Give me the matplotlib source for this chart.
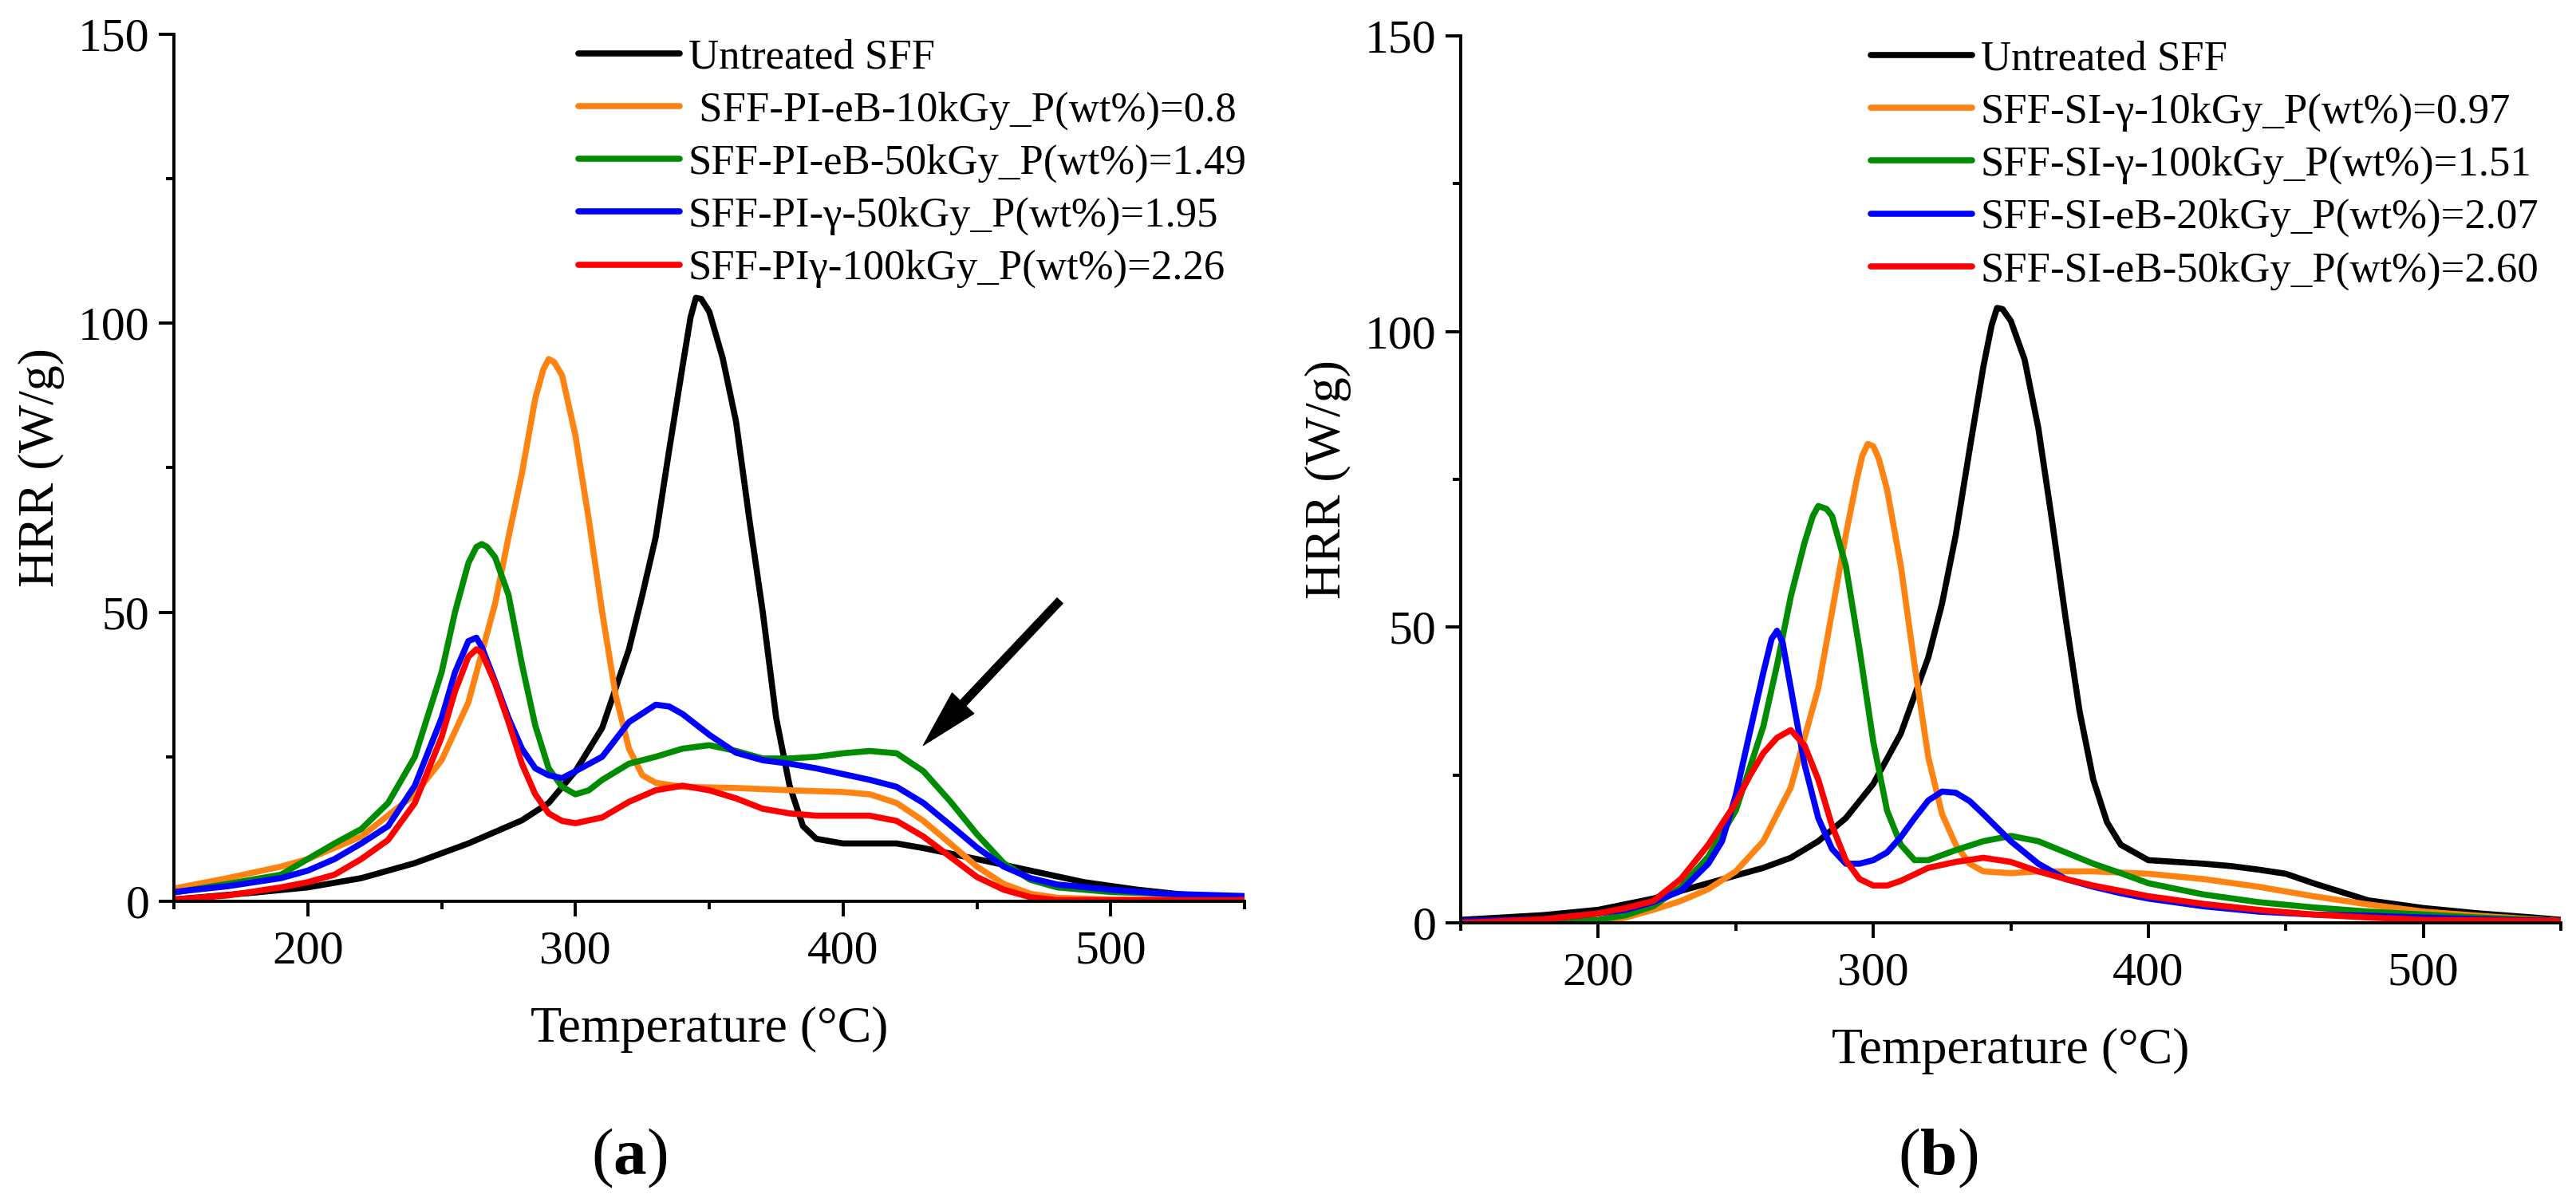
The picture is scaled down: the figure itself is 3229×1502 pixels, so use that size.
import numpy as np
import matplotlib
matplotlib.use('Agg')
import matplotlib.pyplot as plt
from matplotlib.ticker import MultipleLocator

plt.rcParams['font.family'] = ['Liberation Serif', 'DejaVu Serif']
plt.rcParams['mathtext.fontset'] = 'custom'
plt.rcParams['mathtext.rm'] = 'Liberation Serif'
plt.rcParams['mathtext.bf'] = 'Liberation Serif:bold'

# ---- panel (a) data: temperature (C) / HRR (W/g) ----
a_black_t = [150, 180, 200, 220, 240, 260, 280, 290, 300, 310, 320, 325, 330, 335, 340, 343, 345,
             347, 350, 355, 360, 365, 370, 375, 380, 385, 390, 400, 420, 430, 450, 470, 490, 510,
             530, 550]
a_black_y = [0.3, 1.5, 2.4, 4.0, 6.6, 10.0, 14.0, 17.0, 22.5, 30.0, 43.6, 53.0, 63.0, 78.0, 92.5,
             101.0, 104.4, 104.2, 102.0, 94.0, 83.0, 66.0, 50.0, 31.7, 20.0, 13.0, 10.8, 10.0,
             10.0, 9.2, 7.3, 5.3, 3.3, 2.0, 1.0, 0.5]

a_orange_t = [150, 170, 190, 200, 220, 240, 250, 260, 270, 275, 280, 285, 288, 290, 292, 295, 300,
              305, 310, 315, 320, 325, 330, 340, 360, 380, 400, 410, 420, 430, 440, 450, 460, 470,
              480, 500, 550]
a_orange_y = [2.2, 4.0, 6.0, 7.3, 11.2, 18.5, 24.4, 34.4, 51.5, 63.0, 74.0, 87.0, 92.0, 93.8, 93.3,
              91.0, 80.6, 66.0, 50.0, 35.7, 26.4, 21.8, 20.5, 19.8, 19.6, 19.2, 18.9, 18.5, 17.0,
              13.9, 10.0, 6.0, 3.0, 1.3, 0.6, 0.3, 0.2]

a_green_t = [150, 170, 190, 200, 210, 220, 230, 240, 250, 255, 260, 263, 265, 267, 270, 275, 280,
             285, 290, 295, 300, 305, 310, 320, 330, 340, 350, 360, 370, 380, 390, 400, 410, 420,
             430, 440, 450, 460, 470, 480, 500, 520, 550]
a_green_y = [1.5, 3.0, 4.6, 7.3, 10.0, 12.5, 17.0, 25.0, 39.6, 50.0, 58.5, 61.3, 61.8, 61.3, 59.5,
             53.0, 41.0, 30.4, 23.0, 19.8, 18.5, 19.2, 21.0, 23.8, 25.0, 26.4, 27.0, 26.0, 24.7,
             24.7, 25.0, 25.6, 26.0, 25.6, 22.5, 17.3, 11.6, 6.6, 3.7, 2.4, 1.6, 1.3, 0.7]

a_blue_t = [150, 170, 190, 200, 210, 220, 230, 240, 250, 255, 260, 263, 265, 270, 275, 280, 285,
            290, 295, 300, 310, 320, 330, 335, 340, 350, 360, 370, 380, 390, 400, 410, 420, 430,
            440, 450, 460, 470, 480, 500, 520, 550]
a_blue_y = [1.6, 2.6, 4.0, 5.3, 7.3, 10.0, 13.0, 20.0, 31.7, 39.6, 45.0, 45.6, 44.0, 38.0, 31.7,
            26.4, 23.0, 21.8, 21.3, 22.5, 25.0, 31.0, 34.0, 33.7, 32.4, 28.8, 25.7, 24.4, 23.8,
            23.0, 22.0, 21.0, 19.8, 17.0, 13.2, 9.3, 6.0, 4.0, 2.9, 2.0, 1.3, 0.9]

a_red_t = [150, 170, 190, 200, 210, 220, 230, 240, 250, 255, 260, 263, 265, 270, 275, 280, 285,
           290, 295, 300, 310, 320, 330, 340, 350, 360, 370, 380, 390, 400, 410, 420, 430, 440,
           450, 460, 470, 480, 550]
a_red_y = [0.3, 1.0, 2.4, 3.3, 4.6, 7.3, 10.6, 17.0, 28.4, 36.3, 42.3, 43.6, 43.0, 37.7, 31.0,
           23.8, 18.5, 15.2, 13.9, 13.5, 14.5, 17.2, 19.2, 20.0, 19.2, 17.8, 16.0, 15.2, 14.8,
           14.8, 14.8, 13.9, 11.2, 7.7, 4.2, 2.0, 0.7, 0.2, 0.2]

# ---- panel (b) data ----
b_black_t = [150, 180, 200, 220, 240, 260, 270, 280, 290, 300, 310, 320, 325, 330, 335, 340, 343,
             345, 347, 350, 355, 360, 365, 370, 375, 380, 385, 390, 400, 420, 430, 440, 450, 460,
             480, 500, 520, 540, 550]
b_black_y = [0.5, 1.3, 2.2, 4.1, 6.7, 9.3, 11.0, 13.8, 17.7, 23.5, 32.0, 44.9, 54.0, 65.6, 80.0,
             94.0, 101.0, 104.0, 103.8, 101.8, 95.3, 83.7, 68.0, 51.3, 35.8, 24.2, 17.0, 13.2,
             10.6, 10.0, 9.6, 9.0, 8.3, 6.7, 3.8, 2.5, 1.6, 0.9, 0.5]

b_orange_t = [150, 200, 210, 220, 230, 240, 250, 260, 270, 280, 285, 290, 294, 296, 298, 300, 302,
              305, 310, 315, 320, 325, 330, 335, 340, 350, 360, 380, 400, 420, 440, 460, 480, 500,
              520, 550]
b_orange_y = [0.0, 0.0, 0.9, 2.2, 3.7, 5.7, 8.7, 13.8, 22.9, 39.7, 52.6, 65.6, 75.0, 79.0, 81.0,
              80.6, 78.5, 73.3, 60.4, 43.6, 28.0, 18.4, 13.2, 10.0, 8.7, 8.4, 8.7, 8.7, 8.3, 7.4,
              6.1, 4.5, 3.1, 1.9, 1.2, 0.3]

b_green_t = [150, 200, 210, 220, 230, 240, 250, 260, 265, 270, 275, 278, 280, 283, 285, 290, 295,
             300, 305, 310, 315, 320, 330, 340, 350, 360, 370, 380, 390, 400, 420, 440, 460, 480,
             500, 520, 550]
b_green_y = [0.0, 0.5, 1.3, 2.8, 6.0, 11.2, 19.0, 33.2, 43.6, 55.2, 64.3, 68.8, 70.5, 70.0, 68.8,
             60.4, 46.2, 30.6, 19.0, 13.2, 10.6, 10.6, 12.3, 13.8, 14.7, 13.8, 11.9, 10.0, 8.4,
             6.7, 4.8, 3.5, 2.6, 1.9, 1.4, 0.9, 0.3]

b_blue_t = [150, 180, 200, 210, 220, 230, 240, 245, 250, 255, 260, 263, 265, 267, 270, 275, 280,
            285, 290, 295, 300, 305, 310, 315, 320, 325, 330, 335, 340, 350, 360, 370, 380, 390,
            400, 420, 440, 460, 480, 500, 520, 550]
b_blue_y = [0.3, 0.6, 1.6, 2.2, 3.5, 5.4, 10.0, 13.8, 21.6, 32.0, 42.3, 48.0, 49.4, 47.5, 39.7,
            26.8, 17.7, 12.5, 10.0, 10.0, 10.6, 11.9, 14.5, 17.7, 20.7, 22.2, 22.0, 20.6, 18.4,
            13.8, 10.0, 7.4, 6.1, 5.0, 4.1, 2.8, 1.9, 1.4, 1.2, 0.9, 0.6, 0.3]

b_red_t = [150, 180, 200, 210, 220, 230, 240, 250, 255, 260, 265, 270, 275, 280, 285, 290, 295,
           300, 305, 310, 320, 330, 340, 350, 360, 370, 380, 390, 400, 420, 440, 460, 480, 500, 550]
b_red_y = [0.0, 0.6, 1.6, 2.5, 3.7, 7.4, 13.2, 20.3, 24.8, 28.7, 31.3, 32.6, 30.0, 24.2, 16.4,
           10.6, 7.4, 6.3, 6.3, 7.1, 9.3, 10.3, 11.0, 10.3, 8.7, 7.4, 6.3, 5.4, 4.5, 3.2, 2.2,
           1.4, 0.9, 0.5, 0.3]

labels_a = ['Untreated SFF', ' SFF-PI-eB-10kGy_P(wt%)=0.8', 'SFF-PI-eB-50kGy_P(wt%)=1.49',
            'SFF-PI-\u03b3-50kGy_P(wt%)=1.95', 'SFF-PI\u03b3-100kGy_P(wt%)=2.26']
labels_b = ['Untreated SFF', 'SFF-SI-\u03b3-10kGy_P(wt%)=0.97', 'SFF-SI-\u03b3-100kGy_P(wt%)=1.51',
            'SFF-SI-eB-20kGy_P(wt%)=2.07', 'SFF-SI-eB-50kGy_P(wt%)=2.60']
colors = ['black', '#ff8312', '#008c00', '#0000ff', '#ff0000']

series_a = [(a_black_t, a_black_y), (a_orange_t, a_orange_y), (a_green_t, a_green_y),
            (a_blue_t, a_blue_y), (a_red_t, a_red_y)]
series_b = [(b_black_t, b_black_y), (b_orange_t, b_orange_y), (b_green_t, b_green_y),
            (b_blue_t, b_blue_y), (b_red_t, b_red_y)]


def style_axis(ax):
    ax.set_xlim(150, 550)
    ax.set_ylim(0, 150)
    ax.xaxis.set_major_locator(MultipleLocator(100))
    ax.xaxis.set_minor_locator(MultipleLocator(50))
    ax.yaxis.set_major_locator(MultipleLocator(50))
    ax.yaxis.set_minor_locator(MultipleLocator(25))
    for s in ['top', 'right']:
        ax.spines[s].set_visible(False)
    for s in ['left', 'bottom']:
        ax.spines[s].set_linewidth(2.8)
    ax.tick_params(which='major', direction='out', length=14, width=2.8, labelsize=43)
    ax.tick_params(axis='x', which='major', pad=12)
    ax.tick_params(axis='y', which='major', pad=8)
    ax.tick_params(which='minor', direction='out', length=7, width=2.8)
    ax.set_xlabel('Temperature (\u00b0C)', fontsize=46, labelpad=30)
    ax.set_ylabel('HRR (W/g)', fontsize=46, labelpad=12)


def plot_panel(ax, series, labels, leg_x):
    for (t, y), lab, c in zip(series, labels, colors):
        ax.plot(t, y, color=c, lw=5.5, label=lab, solid_joinstyle='round',
                solid_capstyle='round')
    style_axis(ax)
    ax.legend(loc='upper left', bbox_to_anchor=(leg_x, 0.995), frameon=False, fontsize=38,
              handlelength=2.4, handletextpad=0.2, labelspacing=0.34, borderpad=0,
              borderaxespad=0)


fig = plt.figure(figsize=(32.3, 15.02), dpi=100)
ax1 = fig.add_axes([0.0675, 0.2477, 0.4155, 0.7237])
ax2 = fig.add_axes([0.5669, 0.2297, 0.4269, 0.7403])

plot_panel(ax1, series_a, labels_a, 0.378)
plot_panel(ax2, series_b, labels_b, 0.373)

# arrow pointing at the shoulder of the green curve
ax1.annotate('', xy=(430, 27), xytext=(481, 52),
             arrowprops=dict(facecolor='black', edgecolor='black', width=7, headwidth=27,
                             headlength=52, shrink=0))

fig.text(0.2443, 0.033, r'$\mathrm{(}\mathbf{a}\mathrm{)}$', fontsize=60, ha='center', va='center')
fig.text(0.752, 0.033, r'$\mathrm{(}\mathbf{b}\mathrm{)}$', fontsize=60, ha='center', va='center')

fig.savefig('out.png', dpi=100)
